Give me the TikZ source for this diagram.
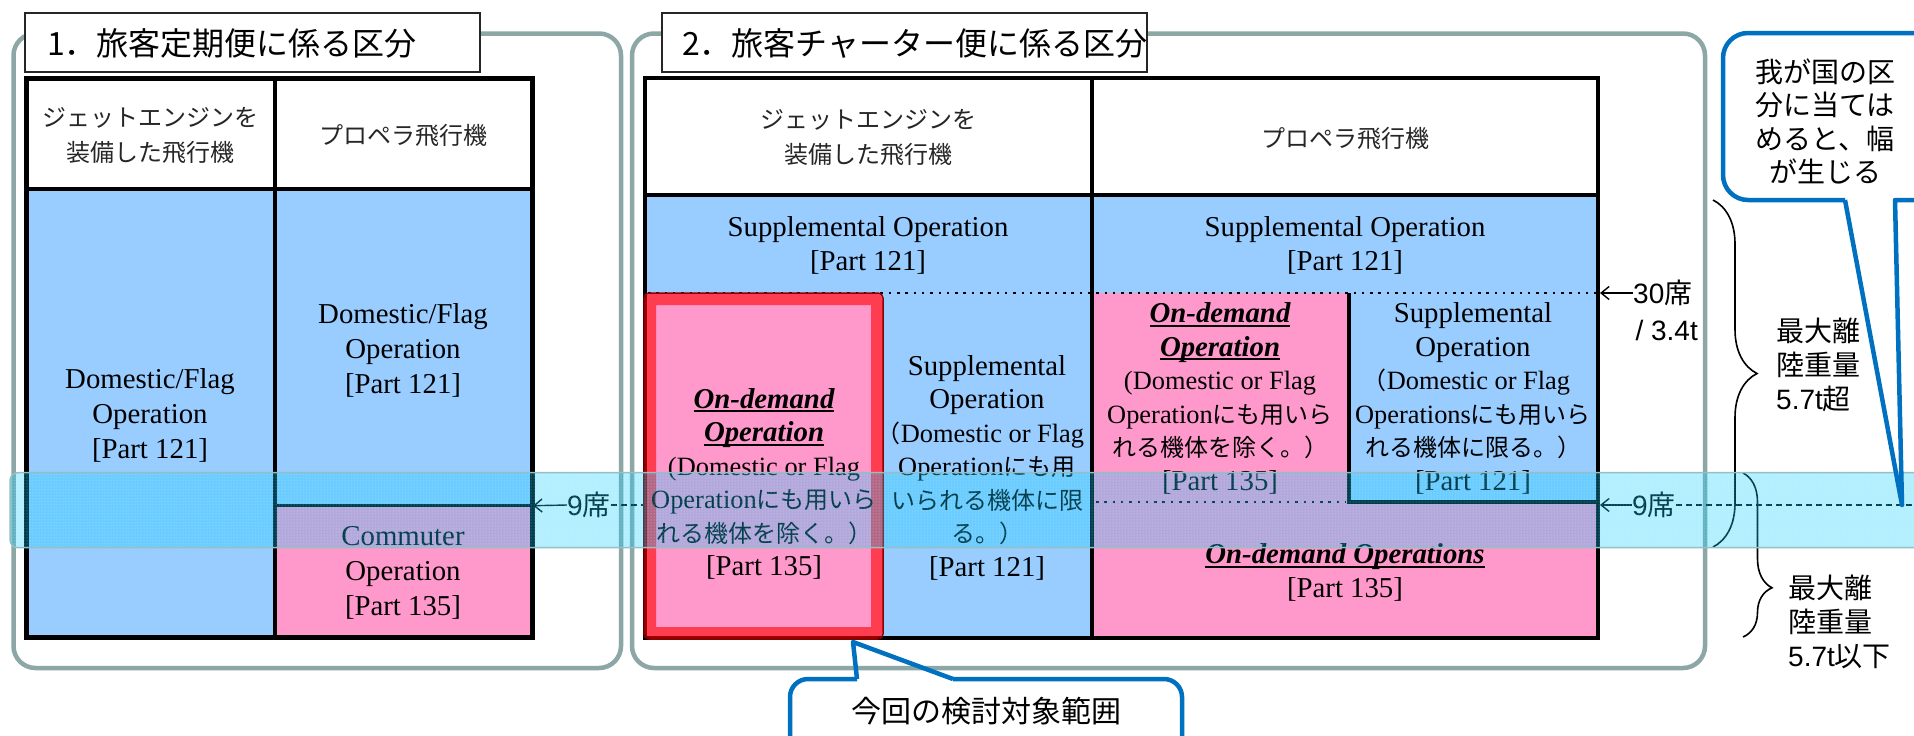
\documentclass[tikz,border=0pt]{standalone}
\usepackage{fontspec}
\setmainfont{Liberation Serif}
\newfontfamily\jpf{Noto Sans CJK JP}
\newfontfamily\arf{Liberation Sans}
\usetikzlibrary{arrows.meta,decorations.pathreplacing,patterns}
\definecolor{cellblue}{RGB}{153,204,255}
\definecolor{cellpink}{RGB}{255,153,204}
\definecolor{framegray}{RGB}{141,166,166}
\definecolor{calloutblue}{RGB}{0,112,192}
\definecolor{bandcyan}{RGB}{0,205,255}
\definecolor{bandedge}{RGB}{150,190,195}
\newcommand\jx[1]{{\fontsize{24}{33.5}\selectfont\jpf #1}}
\newcommand\pn[1]{{\fontsize{26.4}{33.5}\selectfont #1}}
\newcommand\fwp{\makebox[11pt][r]{\jx{（}}}
\newcommand\ulx[1]{\setbox0\hbox{#1}\rlap{\rule[-4pt]{\wd0}{2pt}}\box0}
\newcommand\odm[1]{\ulx{\bfseries\itshape #1}}
\newcommand\partx[1]{{[}Part #1]}
\tikzset{
  cell/.style={font=\fontsize{28.8}{33.5}\selectfont, align=center, inner sep=0pt, text=black},
  cellA/.style={font=\fontsize{28.8}{35}\selectfont, align=center, inner sep=0pt, text=black},
  head/.style={font=\fontsize{24}{35}\selectfont\jpf, align=center, inner sep=0pt, text=black!85},
  titletext/.style={font=\fontsize{32}{38}\selectfont\jpf, anchor=west, inner sep=0pt},
  titlebox/.style={draw=black!85, line width=1.7, fill=white},
  lbl/.style={font=\fontsize{28}{35}\selectfont\arf, inner sep=0pt, text=black},
  jlbl/.style={font=\fontsize{28}{34}\selectfont\jpf, inner sep=0pt, text=black, align=left},
  frame/.style={draw=framegray, line width=4.5, rounded corners=22},
  tabouter/.style={draw=black, line width=4.5},
  tabline/.style={draw=black, line width=3.2},
  dotline/.style={draw=black, line width=2.5, dash pattern=on 2.5pt off 5.8pt},
  dashline/.style={draw=black, line width=1.3, dash pattern=on 6pt off 4pt},
  larrow/.style={draw=black, line width=1.4, -{Straight Barb[length=8pt,width=13pt]}},
  callout/.style={draw=calloutblue, line width=4.5, line join=round},
  bracel/.style={draw=black, line width=1.6, decorate},
}
\begin{document}
\begin{tikzpicture}[x=1pt,y=-1pt]
\useasboundingbox (0,0) rectangle (1914,736);
\clip (0,0) rectangle (1914,736);
\fill[white] (0,0) rectangle (1914,736);

% ---------- frames ----------
\draw[frame] (13.5,33.5) rectangle (621,668);
\draw[frame] (632,33.5) rectangle (1705,668);

% ---------- table 1 ----------
\fill[cellblue] (26.5,189) rectangle (275,637.5);
\fill[cellblue] (275,189) rectangle (532.5,505.7);
\fill[cellpink] (275,505.7) rectangle (532.5,637.5);
\draw[tabline] (275,78.5) -- (275,637.5);
\draw[tabline] (26.5,189) -- (532.5,189);
\draw[tabline] (275,505.7) -- (532.5,505.7);
\draw[tabouter] (26.5,78.5) rectangle (532.5,637.5);
\coordinate (t1right9) at (533,505.7);

\node[head] (t1h1) at (150,135.5) {ジェットエンジンを\\装備した飛行機};
\node[head] (t1h2) at (403,135) {プロペラ飛行機};
\node[cellA] (t1c1) at (150,415) {Domestic/Flag\\Operation\\\partx{121}};
\node[cellA] (t1c2) at (403,350) {Domestic/Flag\\Operation\\\partx{121}};
\node[cellA] (t1c3) at (403,572.5) {Commuter\\Operation\\\partx{135}};

% ---------- table 2 ----------
\fill[cellblue] (645,195) rectangle (1598,293);
\fill[cellpink] (645,293) rectangle (883,638);
\fill[cellblue] (883,293) rectangle (1092,638);
\fill[cellpink] (1092,293) rectangle (1598,638);
\fill[cellblue] (1349,293) rectangle (1598,502);
\draw[tabline] (645,195) -- (1598,195);
\draw[tabline] (1092,78) -- (1092,638);
\draw[dotline] (648,293) -- (1596,293);
\draw[dotline] (1096,502) -- (1346,502);
\draw[tabouter] (1349,293) -- (1349,502) -- (1598,502);
\draw[tabouter] (645,78) rectangle (1598,638);
% red highlight
\draw[red, opacity=0.6, line width=12, rounded corners=3] (650,299) rectangle (877,633);
\draw[red!55!black, line width=1.5, rounded corners=5] (644,293) rectangle (883,639);
\coordinate (redtip) at (853,642);
\coordinate (t2right30) at (1600,293);
\coordinate (t2right9) at (1600,505);
\coordinate (t2left9) at (643,505);

\node[head] (t2h1) at (868,137.5) {ジェットエンジンを\\装備した飛行機};
\node[head] (t2h2) at (1345,138) {プロペラ飛行機};
\node[cell] (t2s1) at (868,245.5) {Supplemental Operation\\\partx{121}};
\node[cell] (t2s2) at (1345,245.5) {Supplemental Operation\\\partx{121}};
\node[cell] (t2od1) at (764,484) {\odm{On-demand}\\\odm{Operation}\\\pn{(Domestic or Flag}\\\pn{Operation}\jx{にも用いら}\\\jx{れる機体を除く。）}\\\partx{135}};
\node[cell] (t2js) at (987,467.5) {Supplemental\\Operation\\\fwp\pn{Domestic or Flag}\\\pn{Operation}\jx{にも用}\\\jx{いられる機体に限}\\\jx{る。）}\\\partx{121}};
\node[cell] (t2od2) at (1220,398.5) {\odm{On-demand}\\\odm{Operation}\\\pn{(Domestic or Flag}\\\pn{Operation}\jx{にも用いら}\\\jx{れる機体を除く。）}\\\partx{135}};
\node[cell] (t2ps) at (1473,398.5) {Supplemental\\Operation\\\fwp\pn{Domestic or Flag}\\\pn{Operations}\jx{にも用いら}\\\jx{れる機体に限る。）}\\\partx{121}};
\node[cell] (t2bot) at (1345,572.5) {\odm{On-demand Operations}\\\partx{135}};

% ---------- title boxes ----------
\draw[titlebox] (25,13.3) rectangle (480,71.7);
\node[titletext] (title1) at (47,43) {1．旅客定期便に係る区分};
\draw[titlebox] (662,13.3) rectangle (1147,71.7);
\node[titletext] (title2) at (682,43) {2．旅客チャーター便に係る区分};

% ---------- seat labels ----------
\node[lbl, anchor=west] (n30) at (1633,293) {30{\jpf 席}};
\node[lbl, anchor=east] (n34) at (1698,330) {/ 3.4t};
\draw[larrow] (n30.west) -- (t2right30);

\node[lbl, anchor=west] (n9a) at (567,505) {9{\jpf 席}};
\draw[larrow] (n9a.west) -- (t1right9);
\draw[dashline] (n9a.east) -- (t2left9);

\node[lbl, anchor=west] (n9b) at (1632,505) {9{\jpf 席}};
\coordinate (rightend) at (1914,505);
\draw[larrow] (n9b.west) -- (t2right9);
\draw[dashline] (n9b.east) -- (rightend);

% ---------- braces ----------
\draw[bracel, decoration={brace, amplitude=44pt}] (1713,200) -- (1713,547);
\draw[bracel, decoration={brace, amplitude=29pt, aspect=0.70}] (1743,473) -- (1743,637);
\node[jlbl, anchor=west] (w1) at (1776,365) {最大離\\陸重量\\{\arf 5.7t}超};
\node[jlbl, anchor=west] (w2) at (1788,622) {最大離\\陸重量\\{\arf 5.7t}以下};

% ---------- translucent band ----------
\fill[bandcyan, opacity=0.3, rounded corners=8] (10,472.7) rectangle (1940,547.7);
\fill[pattern=dots, pattern color=white, opacity=0.5] (12,474) rectangle (1940,546.5);
\draw[bandedge, line width=1.5, rounded corners=8] (10,472.7) rectangle (1940,547.7);

% ---------- callouts ----------
\coordinate (bl) at (857,679);
\coordinate (br) at (953,679);
\draw[callout, rounded corners=18] (790,800) -- (790,679) -- (bl);
\draw[callout] (bl) -- (redtip) -- (br);
\draw[callout, rounded corners=18] (br) -- (1182,679) -- (1182,800);
\node[font=\fontsize{30}{36}\selectfont\jpf, inner sep=0pt] (scope) at (986,711) {今回の検討対象範囲};

\coordinate (bandtip) at (1902,505);
\coordinate (pl) at (1845,200);
\coordinate (pr) at (1895,200);
\draw[callout, rounded corners=25] (1964,33) -- (1723,33) -- (1723,200) -- (pl);
\draw[callout] (pl) -- (bandtip) -- (pr) -- (1964,200);
\node[jlbl, align=center, font=\fontsize{28}{33.5}\selectfont\jpf] (note) at (1825,121.5) {我が国の区\\分に当ては\\めると、幅\\が生じる};
\end{tikzpicture}
\end{document}
